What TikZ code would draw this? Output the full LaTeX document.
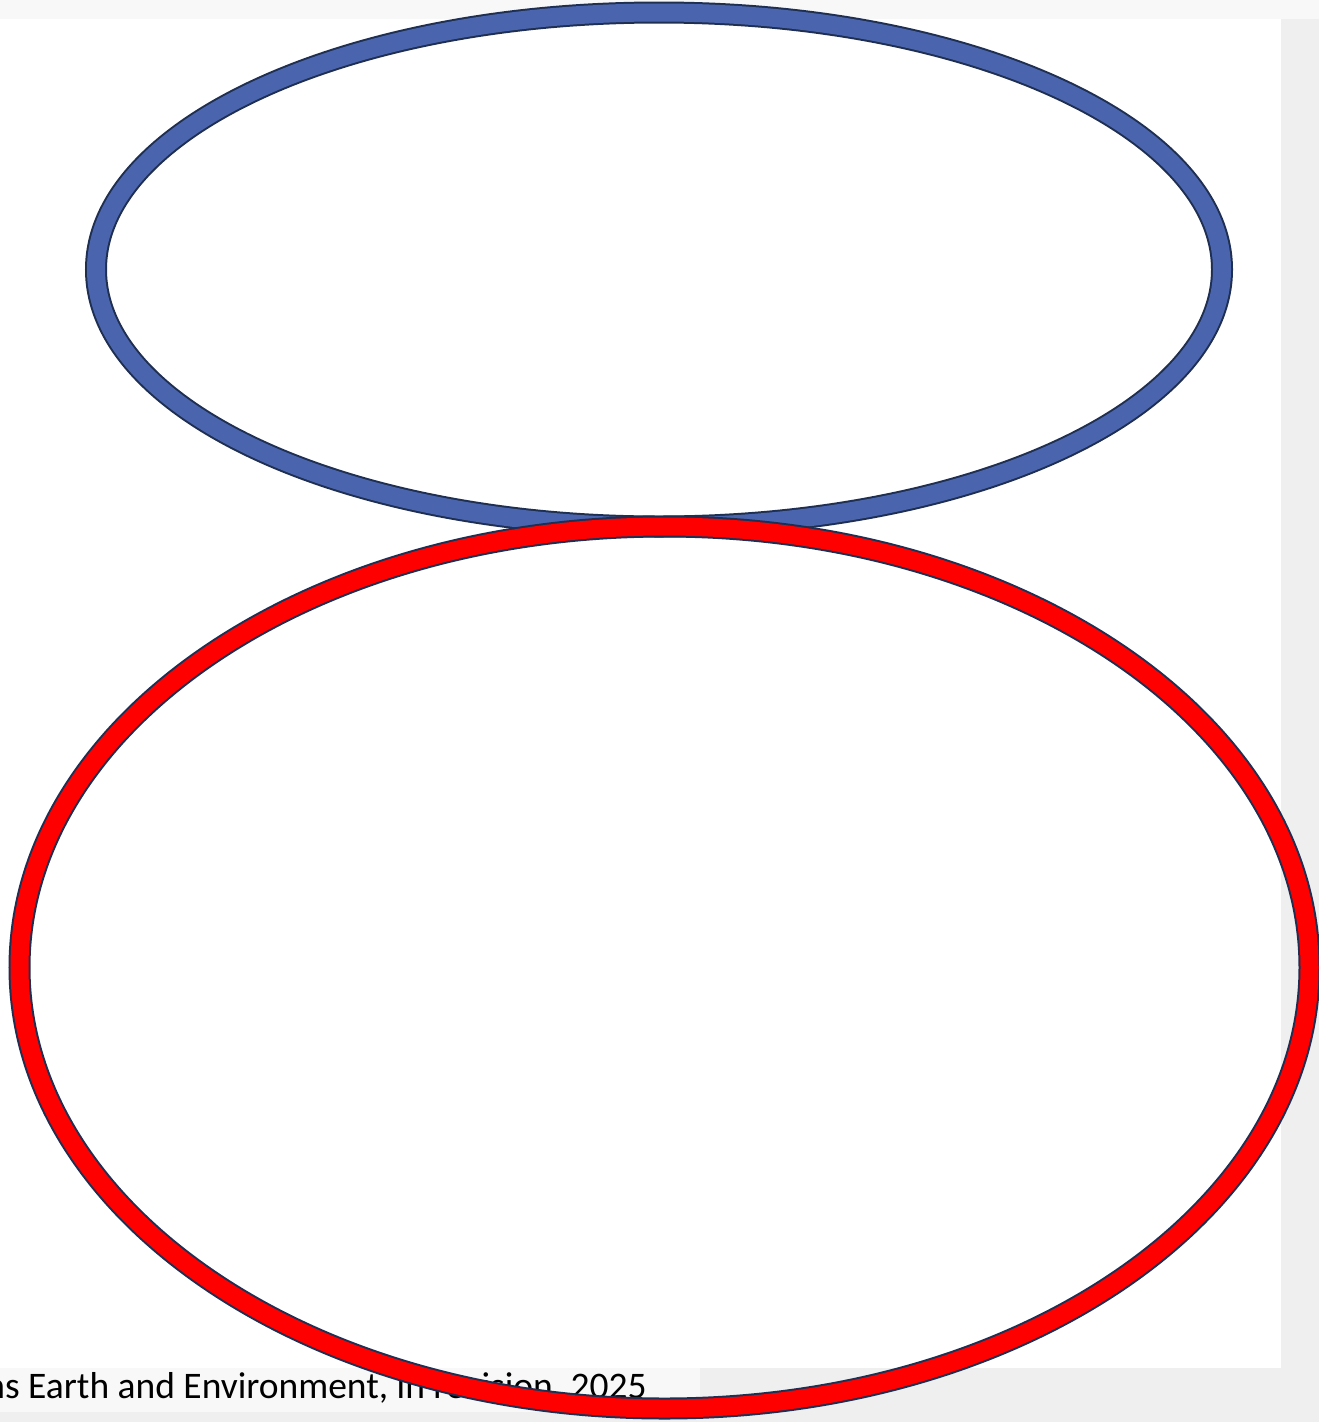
\documentclass[tikz,border=0pt]{standalone}
\usepackage{fontspec}
\setmainfont{Carlito}
\usepackage{tikz}
\usetikzlibrary{shapes.geometric}
\definecolor{ovNavy}{HTML}{1F2F52}
\definecolor{ovBlue}{HTML}{4A65AD}
\definecolor{ovRed}{HTML}{FF0000}
\definecolor{ovBack}{HTML}{EFEFEF}
\definecolor{ovBand}{HTML}{F8F8F8}

\begin{document}
\begin{tikzpicture}[x=1pt, y=-1pt]
\tikzset{ring/.style={ellipse, draw=ovNavy, line width=2pt, double distance=18pt,
  inner sep=0pt, outer sep=0pt},
 ringblue/.style={ring, double=ovBlue, minimum width=1126pt, minimum height=514pt},
 ringred/.style={ring, double=ovRed, minimum width=1290pt, minimum height=882pt},
 citetext/.style={inner sep=0pt, anchor=base east, font=\fontsize{37.5}{44}\selectfont}}
\useasboundingbox (0,0) rectangle (1319,1422);

% backdrop and white panel
\fill[ovBack] (0,0) rectangle (1319,1422);
\fill[ovBand] (0,0) rectangle (1319,19);
\fill[ovBand] (0,1368) rectangle (700,1412);
\fill[white] (0,19) rectangle (1281,1368);

\node[citetext] (cite) at (647,1398) {ns Earth and Environment, in revision, 2025};

\node[ringblue] (upper) at (659,269.5) {};
\node[ringred] (lower) at (664.5,967.5) {};
\end{tikzpicture}
\end{document}
